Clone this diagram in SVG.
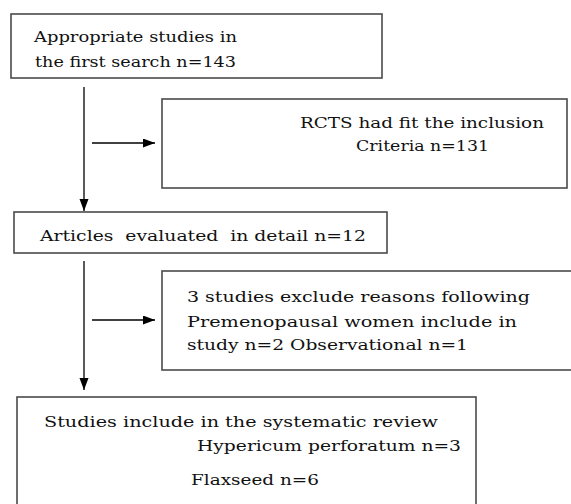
<svg xmlns="http://www.w3.org/2000/svg" width="571" height="504" viewBox="0 0 571 504">
<style>
.box{fill:#fff;stroke:#4a4a4a;stroke-width:1.6}
.t{font-family:"DejaVu Serif","Liberation Serif",serif;font-size:15.5px;fill:#111}
.c{stroke:#000;stroke-width:1.3;fill:none}
</style>
<defs>
<marker id="ah" markerUnits="userSpaceOnUse" markerWidth="13" markerHeight="10" refX="12" refY="4.5" orient="auto">
<path d="M0,0 L12,4.5 L0,9 Z" fill="#000"/>
</marker>
</defs>
<rect width="571" height="504" fill="#fff"/>
<g id="connectors">
<line class="c" x1="84" y1="87" x2="84" y2="211" marker-end="url(#ah)"/>
<line class="c" x1="92" y1="143" x2="155" y2="143" marker-end="url(#ah)"/>
<line class="c" x1="84" y1="261" x2="84" y2="390" marker-end="url(#ah)"/>
<line class="c" x1="92" y1="320" x2="155" y2="320" marker-end="url(#ah)"/>
</g>
<g id="n1">
<rect class="box" x="11" y="14" width="371" height="64"/>
<text class="t" x="34" y="42" textLength="203" lengthAdjust="spacingAndGlyphs">Appropriate studies in</text>
<text class="t" x="35" y="67" textLength="201" lengthAdjust="spacingAndGlyphs">the first search n=143</text>
</g>
<g id="n2">
<rect class="box" x="162" y="99" width="405" height="89"/>
<text class="t" x="300" y="128" textLength="244" lengthAdjust="spacingAndGlyphs">RCTS had fit the inclusion</text>
<text class="t" x="356" y="151" textLength="133" lengthAdjust="spacingAndGlyphs">Criteria n=131</text>
</g>
<g id="n3">
<rect class="box" x="14" y="212" width="373" height="41"/>
<text class="t" x="40" y="241" textLength="326" lengthAdjust="spacingAndGlyphs" xml:space="preserve">Articles  evaluated  in detail n=12</text>
</g>
<g id="n4">
<rect class="box" x="162" y="271" width="414" height="99"/>
<text class="t" x="187" y="302" textLength="343" lengthAdjust="spacingAndGlyphs">3 studies exclude reasons following</text>
<text class="t" x="187" y="327" textLength="330" lengthAdjust="spacingAndGlyphs">Premenopausal women include in</text>
<text class="t" x="187" y="350" textLength="281" lengthAdjust="spacingAndGlyphs">study n=2 Observational n=1</text>
</g>
<g id="n5">
<rect class="box" x="17" y="397" width="459" height="115"/>
<text class="t" x="44" y="427" textLength="394" lengthAdjust="spacingAndGlyphs">Studies include in the systematic review</text>
<text class="t" x="197" y="451" textLength="264" lengthAdjust="spacingAndGlyphs">Hypericum perforatum n=3</text>
<text class="t" x="191" y="485" textLength="128" lengthAdjust="spacingAndGlyphs">Flaxseed n=6</text>
</g>
</svg>
